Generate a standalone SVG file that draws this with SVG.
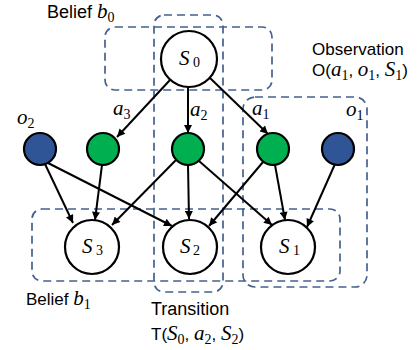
<svg xmlns="http://www.w3.org/2000/svg" width="418" height="350" viewBox="0 0 418 350">
<style>
.box{fill:none;stroke:#44618F;stroke-width:1.7;stroke-dasharray:8 5}
.st{fill:#fff;stroke:#000;stroke-width:2.2}
.act{fill:#00B050;stroke:#000;stroke-width:2.2}
.obs{fill:#2F5597;stroke:#000;stroke-width:2.2}
.edge{stroke:#000;stroke-width:2;fill:none;marker-end:url(#arr)}
.lab{font-family:"Liberation Sans",Arial,sans-serif;font-size:17px;fill:#000}
.m{font-family:"Liberation Serif","DejaVu Serif",serif;font-style:italic;font-size:21px;fill:#000}
.sb{font-family:"Liberation Serif","DejaVu Serif",serif;font-size:14px;font-style:normal;fill:#000}
</style>
<defs>
<marker id="arr" viewBox="0 0 10 10" refX="10" refY="5" markerWidth="9" markerHeight="8" markerUnits="userSpaceOnUse" orient="auto">
<path d="M0,0 L10,5 L0,10 z" fill="#000"/>
</marker>
</defs>
<g id="boxes">
<rect class="box" x="105" y="27" width="167" height="63" rx="10"/>
<rect class="box" x="154" y="15" width="69" height="277" rx="10"/>
<rect class="box" x="32" y="209" width="308" height="72" rx="10"/>
<rect class="box" x="243" y="97" width="124" height="190" rx="12"/>
</g>
<g id="connectors">
<line class="edge" x1="170" y1="80" x2="117" y2="137"/>
<line class="edge" x1="188" y1="87" x2="188" y2="133"/>
<line class="edge" x1="210" y1="78" x2="268" y2="134"/>
<line class="edge" x1="45" y1="164" x2="73" y2="223"/>
<line class="edge" x1="48" y1="163" x2="172" y2="226"/>
<line class="edge" x1="102" y1="165" x2="95" y2="220"/>
<line class="edge" x1="176" y1="160" x2="112" y2="225"/>
<line class="edge" x1="188" y1="165" x2="189" y2="219"/>
<line class="edge" x1="199" y1="161" x2="272" y2="225"/>
<line class="edge" x1="263" y1="162" x2="209" y2="226"/>
<line class="edge" x1="275" y1="165" x2="285" y2="220"/>
<line class="edge" x1="335" y1="164" x2="307" y2="227"/>
</g>
<g id="S0"><circle class="st" cx="189" cy="59" r="28"/><text class="m" x="179" y="65">S<tspan class="sb" x="193" y="67">0</tspan></text></g>
<g id="o2"><circle class="obs" cx="40" cy="149" r="16"/></g>
<g id="a3"><circle class="act" cx="103" cy="149" r="16"/></g>
<g id="a2"><circle class="act" cx="188" cy="149" r="16"/></g>
<g id="a1"><circle class="act" cx="273" cy="149" r="16"/></g>
<g id="o1"><circle class="obs" cx="338" cy="149" r="16"/></g>
<g id="S3"><circle class="st" cx="92" cy="247" r="27"/><text class="m" x="82" y="253">S<tspan class="sb" x="96" y="255">3</tspan></text></g>
<g id="S2"><circle class="st" cx="190" cy="247" r="27"/><text class="m" x="180" y="253">S<tspan class="sb" x="193" y="255">2</tspan></text></g>
<g id="S1"><circle class="st" cx="288" cy="247" r="27"/><text class="m" x="279" y="253">S<tspan class="sb" x="293" y="255">1</tspan></text></g>
<g id="labels">
<text class="lab" x="47" y="18" style="font-size:18px">Belief <tspan class="m">b</tspan><tspan class="sb" dy="4">0</tspan></text>
<text class="lab" x="26" y="305">Belief <tspan class="m">b</tspan><tspan class="sb" dy="4">1</tspan></text>
<text class="lab" x="312" y="55">Observation</text>
<text class="lab" x="312" y="76">O(<tspan class="m">a</tspan><tspan class="sb" dy="4">1</tspan><tspan dy="-4">, </tspan><tspan class="m">o</tspan><tspan class="sb" dy="4">1</tspan><tspan dy="-4">, </tspan><tspan class="m">S</tspan><tspan class="sb" dy="4">1</tspan><tspan dy="-4">)</tspan></text>
<text class="lab" x="151" y="315" style="font-size:18px">Transition</text>
<text class="lab" x="151" y="340">T(<tspan class="m">S</tspan><tspan class="sb" dy="4">0</tspan><tspan dy="-4">, </tspan><tspan class="m">a</tspan><tspan class="sb" dy="4">2</tspan><tspan dy="-4">, </tspan><tspan class="m">S</tspan><tspan class="sb" dy="4">2</tspan><tspan dy="-4">)</tspan></text>
<text class="m" x="113" y="115">a<tspan class="sb" dy="4">3</tspan></text>
<text class="m" x="190" y="116">a<tspan class="sb" dy="4">2</tspan></text>
<text class="m" x="252" y="115">a<tspan class="sb" dy="4">1</tspan></text>
<text class="m" x="17" y="124">o<tspan class="sb" dy="4">2</tspan></text>
<text class="m" x="346" y="116">o<tspan class="sb" dy="4">1</tspan></text>
</g>
</svg>
